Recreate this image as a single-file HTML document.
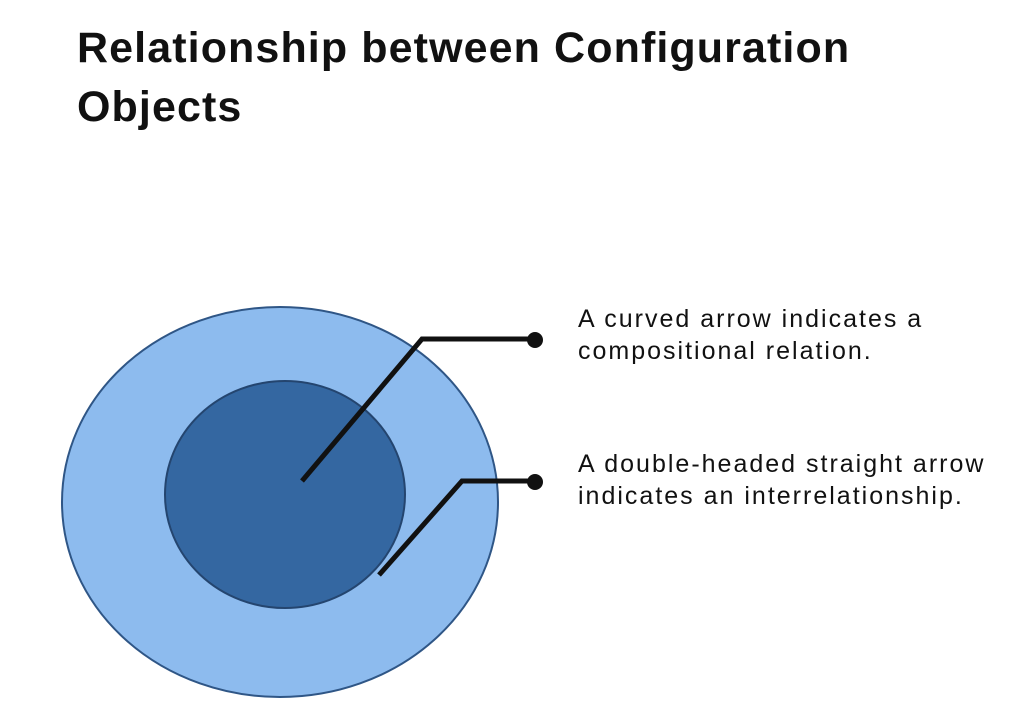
<!DOCTYPE html>
<html><head><style>
html,body{margin:0;padding:0;background:#fff;}
body{width:1026px;height:719px;position:relative;overflow:hidden;font-family:"Liberation Sans",sans-serif;}
.t{position:absolute;left:77px;font-weight:bold;font-size:43px;color:#111;white-space:nowrap;letter-spacing:1.1px}
.b{position:absolute;left:578px;font-size:25px;color:#111;line-height:32px;white-space:nowrap;letter-spacing:2px}
</style></head><body>
<div class="t" style="top:24px">Relationship between Configuration</div>
<div class="t" style="top:83px">Objects</div>
<svg width="1026" height="719" style="position:absolute;left:0;top:0">
<ellipse cx="280" cy="502" rx="218" ry="195" fill="#8dbbee" stroke="#2f5686" stroke-width="2"/>
<ellipse cx="285" cy="494.5" rx="120" ry="113.5" fill="#3467a1" stroke="#24456f" stroke-width="2"/>
<polyline points="302,481 422,339 535,339" fill="none" stroke="#111" stroke-width="5" stroke-linejoin="miter"/>
<polyline points="379,575 462,481 535,481" fill="none" stroke="#111" stroke-width="5"/>
<circle cx="535" cy="340" r="8" fill="#111"/>
<circle cx="535" cy="482" r="8" fill="#111"/>
</svg>
<div class="b" style="top:303px">A curved arrow indicates a<br>compositional relation.</div>
<div class="b" style="top:448px">A double-headed straight arrow<br>indicates an interrelationship.</div>
</body></html>
